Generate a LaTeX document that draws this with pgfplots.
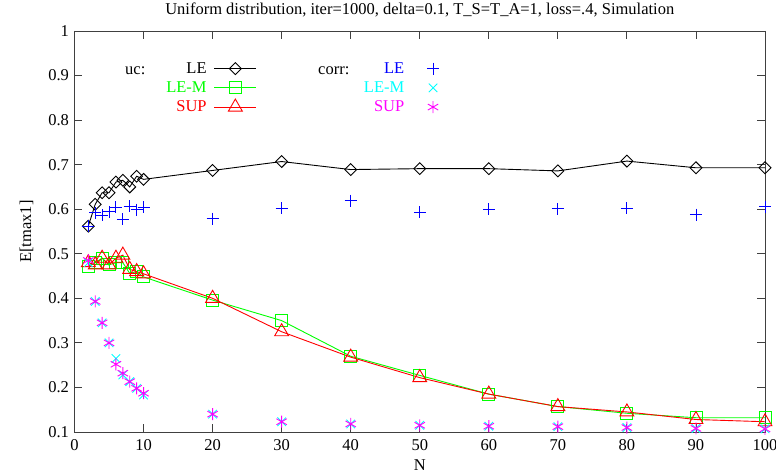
\documentclass[border=0pt]{standalone}
\usepackage{pgfplots}
\pgfplotsset{compat=1.18}
\usepackage{pgfplotstable}
\usepackage{fontspec}
\setmainfont{Liberation Serif}
\definecolor{gpgreen}{RGB}{0,255,0}
\definecolor{gpred}{RGB}{255,0,0}
\definecolor{gpblue}{RGB}{0,0,255}
\definecolor{gpcyan}{RGB}{0,255,255}
\definecolor{gpmag}{RGB}{255,0,255}

\pgfplotstableread{
N LE LEM SUP cLE cLEM cSUP
2 0.562 0.471 0.480 0.562 0.480 0.485
3 0.611 0.480 0.475 0.592 0.393 0.393
4 0.637 0.490 0.490 0.587 0.345 0.345
5 0.637 0.475 0.475 0.594 0.300 0.300
6 0.661 0.480 0.490 0.604 0.265 0.252
7 0.665 0.480 0.497 0.578 0.228 0.232
8 0.650 0.456 0.465 0.607 0.213 0.213
9 0.674 0.460 0.460 0.599 0.198 0.198
10 0.667 0.448 0.455 0.604 0.183 0.187
20 0.687 0.396 0.400 0.579 0.140 0.140
30 0.707 0.350 0.325 0.602 0.123 0.123
40 0.689 0.270 0.268 0.619 0.118 0.118
50 0.691 0.227 0.222 0.593 0.115 0.115
60 0.691 0.185 0.185 0.600 0.113 0.113
70 0.686 0.157 0.157 0.601 0.112 0.112
80 0.708 0.142 0.145 0.602 0.110 0.110
90 0.693 0.132 0.128 0.588 0.108 0.108
100 0.693 0.132 0.123 0.606 0.107 0.107
}\data

\newcommand{\ff}{\fontsize{16.5}{19}\selectfont}

\pgfplotsset{
  common/.style={
    scale only axis, width=690.5pt, height=401pt,
    xmin=0, xmax=100, ymin=0.1, ymax=1,
    xtick={0,10,...,100},
    ytick={0.1,0.2,0.3,0.4,0.5,0.6,0.7,0.8,0.9,1},
    tick align=inside, major tick length=8pt,
    every tick label/.append style={font=\ff},
    /pgf/number format/assume math mode=true,
    yticklabel style={/pgf/number format/fixed, /pgf/number format/precision=1},
    legend plot pos=right,
    legend cell align=right,
    legend image code/.code={\draw[mark repeat=2,mark phase=2,##1] plot coordinates {(0pt,0pt) (21pt,0pt) (42pt,0pt)};},
    every axis plot/.append style={line width=0.9pt},
  },
  marklegend/.style={legend image code/.code={\path (0pt,0pt) (42pt,0pt); \draw[##1] plot coordinates {(21pt,0pt)};}},
  mylegend/.style={legend style={draw=none, fill=none, font=\ff, at={#1}, anchor=north east,
    row sep=2.2pt, column sep=6.3pt, inner sep=0pt, nodes={inner sep=1pt, text height=12pt, text depth=3pt}}},
}

\begin{document}
\begin{tikzpicture}
\begin{axis}[common, name=main,
  axis line style={line width=0.9pt, black!75},
  every tick/.style={line width=0.9pt, black!75},
  xticklabel style={yshift=-4.5pt},
  yticklabel style={xshift=-2pt},
  title={Uniform distribution, iter=1000, delta=0.1, T\_S=T\_A=1, loss=.4, Simulation},
  title style={font=\ff, anchor=base, at={(axis description cs:0.5,1)}, yshift=10pt},
  xlabel={N},
  xlabel style={font=\ff, anchor=base, at={(axis description cs:0.5,0)}, yshift=-39pt},
  ylabel={E[tmax1]},
  ylabel style={font=\ff, anchor=center, at={(axis description cs:0,0.5)}, yshift=48pt},
  mylegend={(axis cs:26.43,0.935)},
]
\addplot[black, mark=square, mark size=4.2pt, mark options={rotate=45, solid}] table[x=N,y=LE]{\data};
\addlegendentry{LE}
\addplot[gpgreen, mark=square, mark size=6pt, mark options={solid}] table[x=N,y=LEM]{\data};
\addlegendentry{\textcolor{gpgreen}{LE-M}}
\addplot[gpred, mark=triangle, mark size=8pt, mark options={solid}] table[x=N,y=SUP]{\data};
\addlegendentry{\textcolor{gpred}{SUP}}
\node[anchor=base west, inner sep=0pt, font=\ff] at (axis cs:7.31,0.902) {uc:};
\node[anchor=base west, inner sep=0pt, font=\ff] at (axis cs:35.27,0.902) {corr:};
\end{axis}
\begin{axis}[common, hide axis,
  mylegend={(axis cs:55.06,0.935)},
]
\addplot[gpblue, only marks, marklegend, mark=+, mark size=6pt] table[x=N,y=cLE]{\data};
\addlegendentry{\textcolor{gpblue}{LE}}
\addplot[gpcyan, only marks, marklegend, mark=x, mark size=6pt] table[x=N,y=cLEM]{\data};
\addlegendentry{\textcolor{gpcyan}{LE-M}}
\addplot[gpmag, only marks, marklegend, mark=asterisk, mark size=6pt] table[x=N,y=cSUP]{\data};
\addlegendentry{\textcolor{gpmag}{SUP}}
\end{axis}
\pgfresetboundingbox
\path[use as bounding box] ([shift={(-74.5pt,-43pt)}]main.south west) rectangle ([shift={(11pt,31pt)}]main.north east);
\end{tikzpicture}
\end{document}
